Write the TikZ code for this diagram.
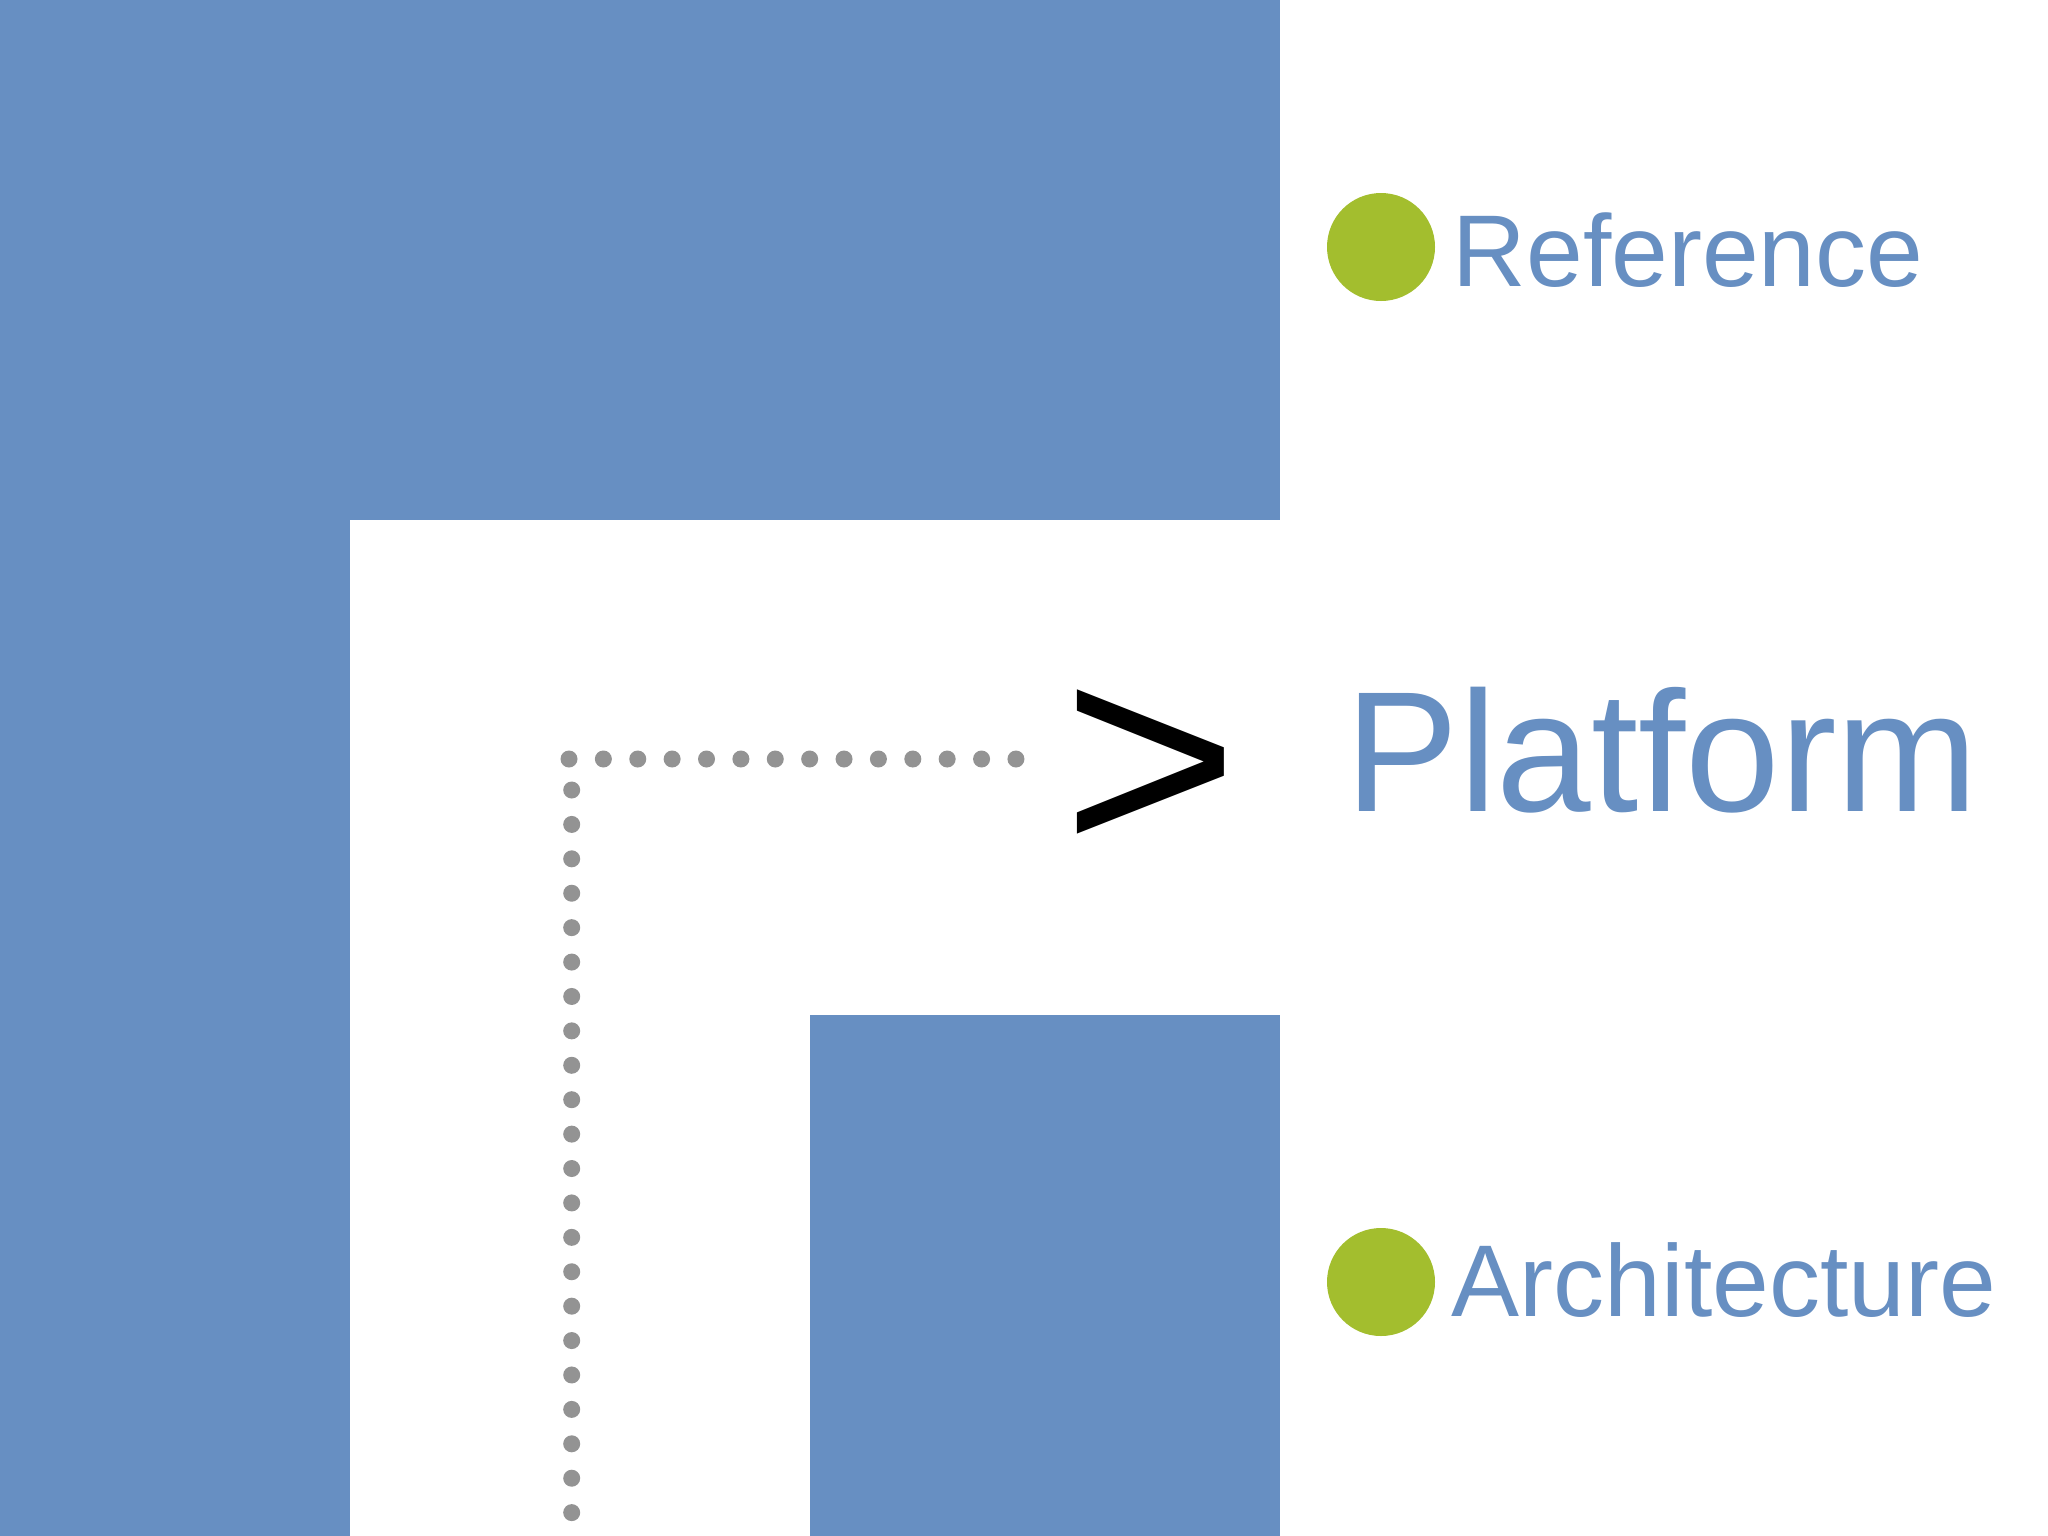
\documentclass[tikz,border=0pt]{standalone}
\usepackage{fontspec}
\setmainfont{Liberation Sans}
\definecolor{blockblue}{RGB}{103,143,194}
\definecolor{dotgreen}{RGB}{163,190,46}
\definecolor{dotgrey}{RGB}{147,147,147}
\newlength{\pxu}
\setlength{\pxu}{0.01cm}
\tikzset{
  block/.style={fill=blockblue, draw=none},
  bullet/.style={circle, fill=dotgreen, draw=none, minimum size=108\pxu, inner sep=0},
  label/.style={anchor=base west, inner sep=0, text=blockblue, font=\fontsize{29}{29}\selectfont},
  biglabel/.style={anchor=base west, inner sep=0, text=blockblue, font=\fontsize{48.8}{48.8}\selectfont},
  greydot/.style={fill=dotgrey, draw=none}
}
\begin{document}
\begin{tikzpicture}[x=0.01cm, y=-0.01cm]
\useasboundingbox (0,0) rectangle (2048,1536);
\fill[white] (0,0) rectangle (2048,1536);
% blue blocks
\fill[block] (0,0) rectangle (1280,520);
\fill[block] (0,0) rectangle (350,1536);
\fill[block] (810,1015) rectangle (1280,1536);
% bullets
\node[bullet] (b1) at (1381,247) {};
\node[bullet] (b2) at (1381,1282) {};
% labels
\node[label] (ref) at (1452,286) {Reference};
\node[label] (arch) at (1451,1316) {Architecture};
\node[biglabel, xscale=0.99] (plat) at (1345,811) {Platform};
% greater-than sign
\node[anchor=base west, inner sep=0, yscale=0.94, font=\fontsize{86}{86}\selectfont] (gt) at (1062,855) {>};
% dotted path
\foreach \i in {0,...,13} {
  \fill[greydot] (569+\i*34.38,759) circle (8.5);
}
\foreach \i in {0,...,21} {
  \fill[greydot] (571.7,790+\i*34.41) circle (8.5);
}
\end{tikzpicture}
\end{document}
